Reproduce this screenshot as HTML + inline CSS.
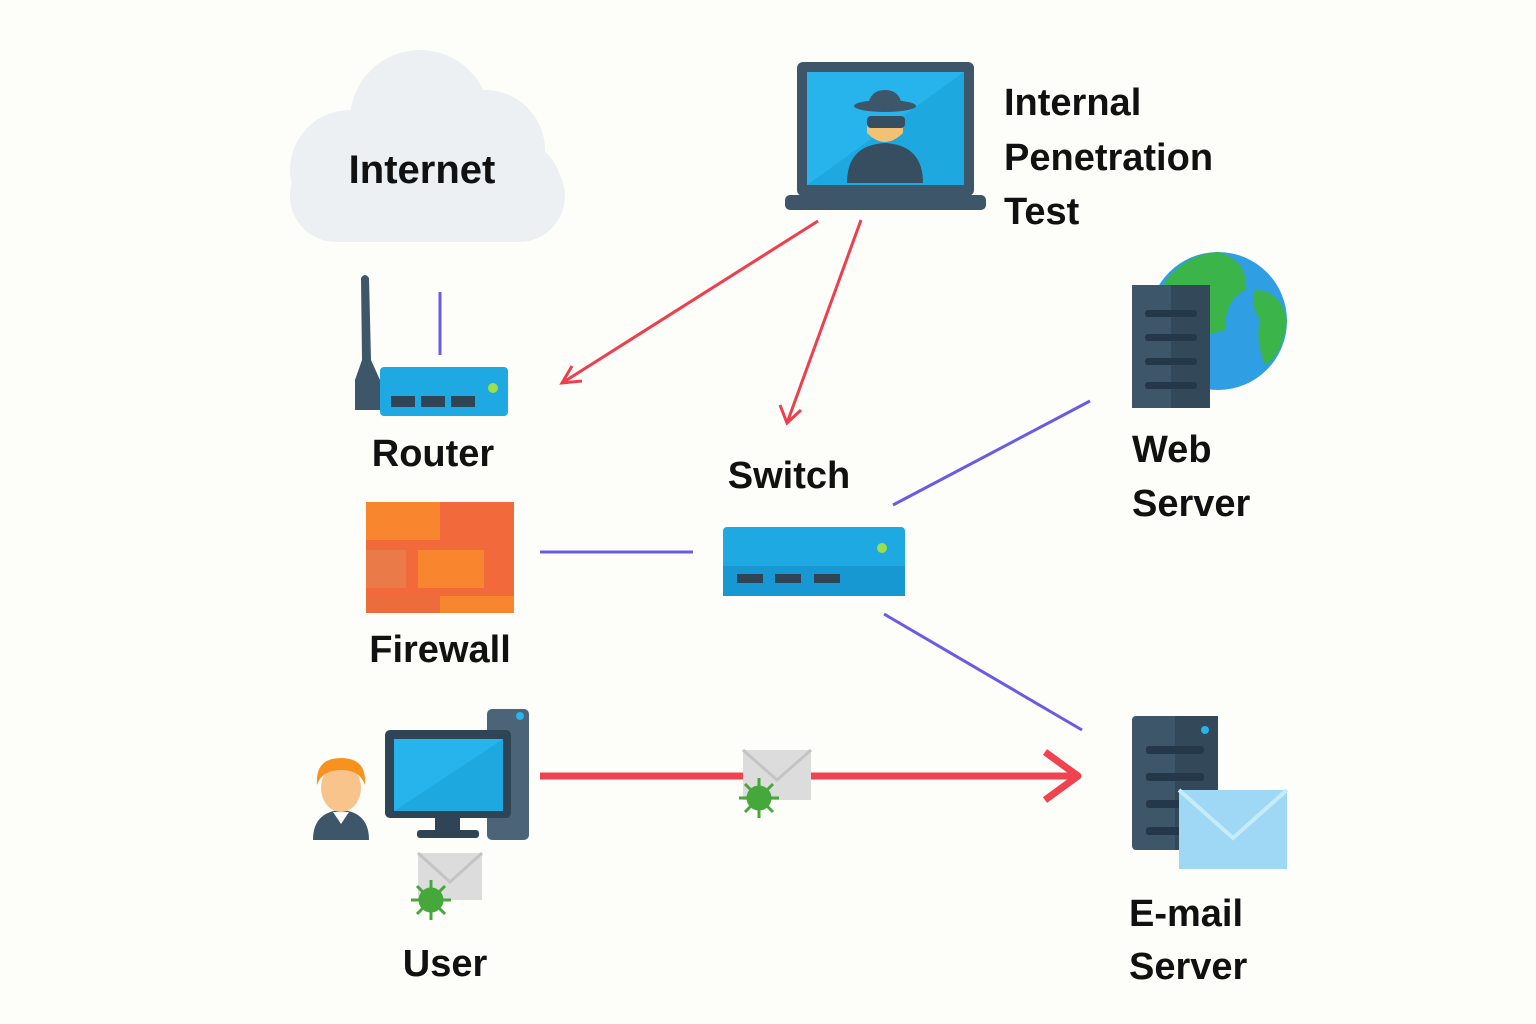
<!DOCTYPE html>
<html><head><meta charset="utf-8"><style>
html,body{margin:0;padding:0;background:#fdfdfa;}
svg{display:block}
text{font-family:"Liberation Sans","DejaVu Sans",sans-serif;fill:#111;font-weight:bold}
</style></head><body>
<svg width="1536" height="1024" viewBox="0 0 1536 1024" xmlns="http://www.w3.org/2000/svg">
<defs>
<linearGradient id="scr" x1="0" y1="0" x2="1" y2="1"><stop offset="0.5" stop-color="#27b3ec"/><stop offset="0.5" stop-color="#1ea8e0"/></linearGradient>
</defs>
<!-- cloud -->
<g fill="#edf0f2">
<circle cx="420" cy="120" r="70"/><circle cx="485" cy="150" r="60"/><circle cx="350" cy="170" r="60"/>
<circle cx="510" cy="190" r="52"/>
<rect x="290" y="150" width="275" height="92" rx="46"/>
</g>
<text x="422" y="183" font-size="40" text-anchor="middle">Internet</text>

<!-- laptop -->
<rect x="797" y="62" width="177" height="134" rx="6" fill="#3d5669"/>
<rect x="807" y="72" width="157" height="113" fill="url(#scr)"/>
<rect x="785" y="195" width="201" height="15" rx="5" fill="#3d5669"/>
<path d="M847 183 Q847 145 885 143 Q923 145 923 183Z" fill="#374e60"/>
<path d="M867 118 h36 v15 q-18 18 -36 0z" fill="#f3c173"/>
<rect x="867" y="116" width="38" height="12" rx="4" fill="#374e60"/>
<ellipse cx="885" cy="106" rx="31" ry="6" fill="#3d5669"/>
<path d="M868 106 Q870 90 885 90 Q900 90 902 106Z" fill="#3d5669"/>
<text x="1004" y="115" font-size="38">Internal</text>
<text x="1004" y="170" font-size="38">Penetration</text>
<text x="1004" y="224" font-size="38">Test</text>

<!-- arrows from laptop -->
<g stroke="#ee3f4d" stroke-width="3" fill="none">
<line x1="818" y1="221" x2="562" y2="383"/>
<polyline points="572,366 562,383 582,381"/>
<line x1="861" y1="220" x2="787" y2="423"/>
<polyline points="780,405 787,423 801,410"/>
</g>

<!-- router -->
<line x1="440" y1="292" x2="440" y2="355" stroke="#6a5be6" stroke-width="3"/>
<path d="M361 278 Q365 272 369 278 L371 360 L380 380 V410 H355 V380 L362 360Z" fill="#3d5669"/>
<rect x="380" y="367" width="128" height="49" rx="4" fill="#1fa9e3"/>
<rect x="391" y="396" width="24" height="11" fill="#2f4556"/>
<rect x="421" y="396" width="24" height="11" fill="#2f4556"/>
<rect x="451" y="396" width="24" height="11" fill="#2f4556"/>
<circle cx="493" cy="388" r="5" fill="#9be04a"/>
<text x="433" y="466" font-size="38" text-anchor="middle">Router</text>

<!-- firewall -->
<rect x="366" y="502" width="148" height="111" fill="#f26a3c"/>
<rect x="366" y="502" width="74" height="38" fill="#f7862f"/>
<rect x="418" y="550" width="66" height="38" fill="#f7862f"/>
<rect x="366" y="550" width="40" height="38" fill="#ea7a48"/>
<rect x="366" y="596" width="74" height="17" fill="#ec6d3b"/>
<rect x="440" y="596" width="74" height="17" fill="#f7862f"/>
<text x="440" y="662" font-size="38" text-anchor="middle">Firewall</text>

<!-- switch -->
<text x="789" y="488" font-size="38" text-anchor="middle">Switch</text>
<rect x="723" y="527" width="182" height="69" rx="4" fill="#1fa9e3"/>
<rect x="723" y="566" width="182" height="30" fill="#1898d2"/>
<rect x="737" y="574" width="26" height="9" fill="#2f4556"/>
<rect x="775" y="574" width="26" height="9" fill="#2f4556"/>
<rect x="814" y="574" width="26" height="9" fill="#2f4556"/>
<circle cx="882" cy="548" r="5" fill="#9be04a"/>
<g stroke="#6a5be6" stroke-width="3">
<line x1="540" y1="552" x2="693" y2="552"/>
<line x1="893" y1="505" x2="1090" y2="401"/>
<line x1="884" y1="614" x2="1082" y2="730"/>
</g>

<!-- web server -->
<circle cx="1218" cy="321" r="69" fill="#2f9ee3"/>
<path d="M1160 290 Q1180 255 1218 252 Q1250 262 1245 290 Q1225 300 1225 330 Q1200 340 1185 320 Q1170 300 1160 290Z" fill="#3bb54a"/>
<path d="M1255 290 Q1280 290 1287 320 Q1283 355 1265 365 Q1255 340 1260 320 Q1250 305 1255 290Z" fill="#3bb54a"/>
<rect x="1132" y="285" width="78" height="123" fill="#3d5669"/>
<rect x="1171" y="285" width="39" height="123" fill="#33495a"/>
<g fill="#24384a"><rect x="1145" y="310" width="52" height="7" rx="3"/><rect x="1145" y="334" width="52" height="7" rx="3"/><rect x="1145" y="358" width="52" height="7" rx="3"/><rect x="1145" y="382" width="52" height="7" rx="3"/></g>
<text x="1132" y="462" font-size="38">Web</text>
<text x="1132" y="516" font-size="38">Server</text>

<!-- email server -->
<rect x="1132" y="716" width="86" height="134" rx="4" fill="#3d5669"/>
<rect x="1175" y="716" width="43" height="134" fill="#33495a"/>
<circle cx="1205" cy="730" r="4" fill="#27b3ec"/>
<g fill="#24384a"><rect x="1146" y="746" width="58" height="8" rx="3"/><rect x="1146" y="773" width="58" height="8" rx="3"/><rect x="1146" y="800" width="58" height="8" rx="3"/><rect x="1146" y="827" width="58" height="8" rx="3"/></g>
<rect x="1179" y="790" width="108" height="79" fill="#9fd8f4"/>
<polyline points="1179,790 1233,838 1287,790" fill="none" stroke="#c6ebfa" stroke-width="4"/>
<text x="1129" y="926" font-size="38">E-mail</text>
<text x="1129" y="979" font-size="38">Server</text>

<!-- user -->
<path d="M313 840 Q313 812 341 810 Q369 812 369 840Z" fill="#3d5669"/>
<path d="M333 812 L341 824 L349 812Z" fill="#fff"/>
<ellipse cx="341" cy="788" rx="20" ry="24" fill="#f8c48c"/>
<path d="M317 785 Q315 758 341 758 Q367 758 365 785 Q360 770 341 770 Q322 770 317 785Z" fill="#f7921e"/>
<rect x="487" y="709" width="42" height="131" rx="5" fill="#4b6477"/>
<circle cx="520" cy="716" r="4" fill="#27b3ec"/>
<rect x="385" y="730" width="126" height="88" rx="5" fill="#2f4556"/>
<rect x="394" y="739" width="109" height="72" fill="url(#scr)"/>
<rect x="435" y="818" width="25" height="12" fill="#2f4556"/>
<rect x="417" y="830" width="62" height="8" rx="3" fill="#2f4556"/>
<rect x="418" y="853" width="64" height="47" fill="#dcdcdc"/>
<polyline points="418,853 450,882 482,853" fill="none" stroke="#c4c4c4" stroke-width="3"/>
<g fill="#46a83a" stroke="#46a83a" stroke-width="3">
<circle cx="431" cy="900" r="11"/>
<line x1="431" y1="880" x2="431" y2="920"/><line x1="411" y1="900" x2="451" y2="900"/>
<line x1="417" y1="886" x2="445" y2="914"/><line x1="445" y1="886" x2="417" y2="914"/>
</g>
<text x="445" y="976" font-size="38" text-anchor="middle">User</text>

<!-- big red arrow -->
<g stroke="#f0424f" stroke-width="7" fill="none">
<line x1="540" y1="776" x2="1078" y2="776"/>
<polyline points="1045,752 1078,776 1045,800" stroke-linejoin="round"/>
</g>
<rect x="743" y="750" width="68" height="50" fill="#dcdcdc"/>
<polyline points="743,750 777,780 811,750" fill="none" stroke="#c4c4c4" stroke-width="3"/>
<g fill="#46a83a" stroke="#46a83a" stroke-width="3">
<circle cx="759" cy="798" r="11"/>
<line x1="759" y1="778" x2="759" y2="818"/><line x1="739" y1="798" x2="779" y2="798"/>
<line x1="745" y1="784" x2="773" y2="812"/><line x1="773" y1="784" x2="745" y2="812"/>
</g>
</svg>
</body></html>
